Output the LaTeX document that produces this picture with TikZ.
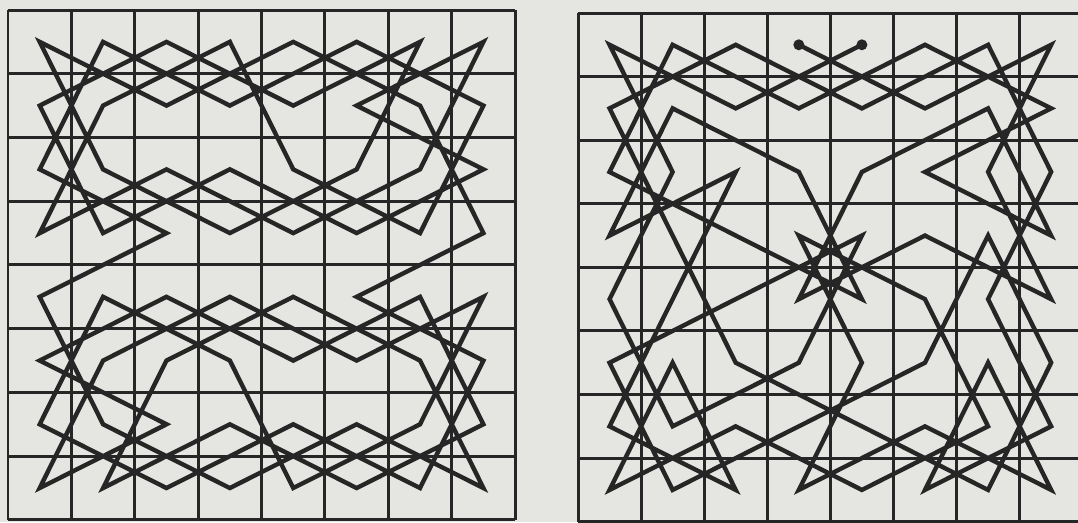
\documentclass[tikz,border=0pt]{standalone}
\usepackage{tikz}

\definecolor{paper}{RGB}{229,230,226}
\definecolor{ink}{RGB}{38,38,38}

\begin{document}
\begin{tikzpicture}[
    x=0.02cm, y=-0.02cm,
    gridline/.style={draw=ink, line width=1.7pt},
    tour/.style={draw=ink, line width=2.5pt, line join=miter},
    enddot/.style={fill=ink, circle, inner sep=0pt, minimum size=0.22cm},
]

% page
\useasboundingbox (0,0) rectangle (1078,522);
\fill[paper] (0,0) rectangle (1078,522);
\clip (0,0) rectangle (1078,522);

% Left board: closed tour
\begin{scope}[shift={(8,10)}, x=1.268cm, y=-1.275cm]
  \foreach \i in {0,...,8} {
    \draw[gridline] (\i,0) -- (\i,8);
    \draw[gridline] (0,\i) -- (8,\i);
  }
  \foreach \c in {0,...,7}
    \foreach \r in {0,...,7}
      \coordinate (L-\c-\r) at (\c+0.5,\r+0.5);
  \draw[tour] (L-2-3)
    \foreach \p in {0-2,1-0,3-1,5-0,7-1,6-3,4-2,3-0,1-1,0-3,2-2,4-3,6-2,7-0,5-1,7-2,
                    5-3,3-2,1-3,0-1,2-0,4-1,6-0,5-2,3-3,1-2,0-0,2-1,4-0,6-1,7-3,
                    5-4,7-5,6-7,4-6,2-7,0-6,1-4,3-5,4-7,6-6,7-4,5-5,3-4,1-5,0-7,2-6,
                    0-5,2-4,4-5,6-4,7-6,5-7,3-6,1-7,2-5,4-4,6-5,7-7,5-6,3-7,1-6,0-4}
    { -- (L-\p) } -- cycle;
\end{scope}

% Right board: open tour, ends marked
\begin{scope}[shift={(578,13)}, x=1.262cm, y=-1.272cm]
  \foreach \i in {0,...,8} {
    \draw[gridline] (\i,0) -- (\i,8);
    \draw[gridline] (0,\i) -- (8,\i);
  }
  \foreach \c in {0,...,7}
    \foreach \r in {0,...,7}
      \coordinate (R-\c-\r) at (\c+0.5,\r+0.5);
  \draw[tour] (R-3-0)
    \foreach \p in {5-1,7-0,6-2,7-4,5-3,3-4,4-2,6-1,7-3,5-2,7-1,5-0,3-1,1-0,0-2,2-3,
                    4-4,3-2,1-1,0-3,2-2,1-4,0-6,2-7,1-5,0-7,2-6,4-7,6-6,5-4,3-3,4-5,
                    3-7,5-6,7-7,6-5,5-7,7-6,6-4,7-2,6-0,4-1,2-0,0-1,1-3,2-5,4-6,6-7,
                    7-5,6-3,5-5,3-6,1-7,0-5,2-4,4-3,3-5,1-6,0-4,1-2,0-0,2-1,4-0}
    { -- (R-\p) };
  \node[enddot] (start) at (R-3-0) {};
  \node[enddot] (finish) at (R-4-0) {};
\end{scope}

\end{tikzpicture}
\end{document}
